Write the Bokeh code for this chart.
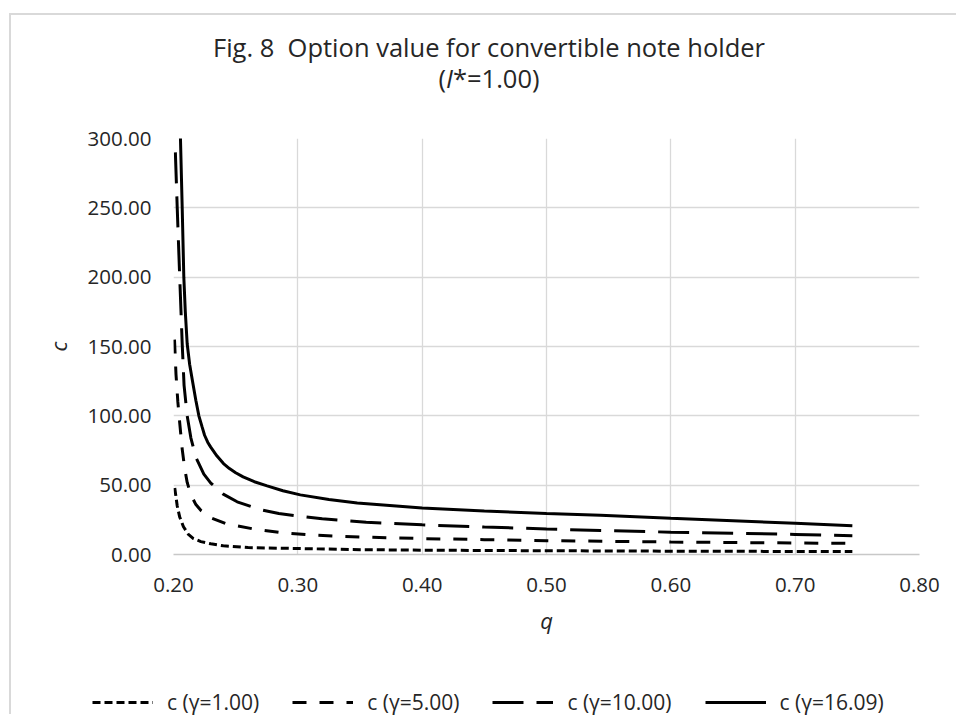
from bokeh.plotting import figure
from bokeh.layouts import column
from bokeh.models import (Range1d, FixedTicker, NumeralTickFormatter, Legend,
                          LegendItem, Div)
from bokeh.embed import file_html
from bokeh.resources import INLINE

# ---------------- data ----------------
q_g1 = [0.2010, 0.2030, 0.2050, 0.2080, 0.2120, 0.2160, 0.2220, 0.2300, 0.2400,
        0.2600, 0.3000, 0.3500, 0.4000, 0.5000, 0.6000, 0.7000, 0.7460]
c_g1 = [48.0, 35.0, 27.0, 20.0, 14.5, 11.5, 9.3, 7.7, 6.3,
        5.0, 4.3, 3.5, 3.1, 2.7, 2.4, 2.2, 2.1]

q_g5 = [0.2008, 0.2020, 0.2035, 0.2050, 0.2070, 0.2090, 0.2110, 0.2140, 0.2180,
        0.2223, 0.2300, 0.2418, 0.2633, 0.2861, 0.3083, 0.3317, 0.3536, 0.4000,
        0.4500, 0.5000, 0.5500, 0.6000, 0.6500, 0.7000, 0.7460]
c_g5 = [155, 130, 110, 95, 76, 62, 52, 43, 36,
        31.5, 26.5, 22.4, 18.6, 15.8, 14.2, 13.2, 12.5, 11.5,
        10.7, 10.0, 9.5, 9.0, 8.6, 8.3, 8.0]

q_g10 = [0.2015, 0.2030, 0.2050, 0.2070, 0.2085, 0.2110, 0.2140, 0.2180, 0.2244,
         0.2300, 0.2400, 0.2512, 0.2700, 0.2847, 0.3000, 0.3196, 0.3550, 0.4000,
         0.4500, 0.5000, 0.5434, 0.6000, 0.6500, 0.7000, 0.7460]
c_g10 = [290, 250, 200, 152, 122, 100, 84, 70, 58,
         51.5, 43.5, 38, 32.3, 29.6, 27.8, 25.7, 23.3, 21.4,
         19.8, 18.4, 17.3, 16.1, 15.3, 14.5, 13.5]

q_g16 = [0.2040, 0.2056, 0.2070, 0.2083, 0.2095, 0.2110, 0.2130, 0.2153, 0.2180,
         0.2204, 0.2230, 0.2250, 0.2275, 0.2298, 0.2350, 0.2402, 0.2450, 0.2500,
         0.2560, 0.2650, 0.2753, 0.2880, 0.3020, 0.3250, 0.3478, 0.4000, 0.4500,
         0.5000, 0.5434, 0.6000, 0.6500, 0.7000, 0.7460]
c_g16 = [340, 300, 250, 200, 175, 152, 137, 125, 111,
         100, 92, 86, 81, 77.6, 71, 65.6, 62, 59,
         56, 52.5, 49.5, 46, 43, 39.6, 37.2, 33.5, 31.3,
         29.6, 28.3, 26.2, 24.4, 22.5, 20.8]

series_labels = ["c (γ=1.00)", "c (γ=5.00)", "c (γ=10.00)", "c (γ=16.09)"]
x_ticks = [0.20, 0.30, 0.40, 0.50, 0.60, 0.70, 0.80]
y_ticks = [0, 50, 100, 150, 200, 250, 300]
title_line1 = "Fig. 8  Option value for convertible note holder"
title_line2_pre, title_line2_it, title_line2_post = "(", "I", "*=1.00)"
x_title = "q"
y_title = "c"

# ---------------- layout ----------------
FONT = "Open Sans"
TXT = "#262626"
ML, MT, FW, FH, MR, MB = 162, 23, 746, 416, 30, 125
CANVAS_W = ML + FW + MR
LEG_H = 37

title_html = (
    f'<div style="margin-left:28px;width:900px;text-align:center;'
    f"font-family:'{FONT}';font-size:25.5px;line-height:31px;color:{TXT};"
    f'padding-top:17px;white-space:pre">{title_line1}<br>'
    f'{title_line2_pre}<i>{title_line2_it}</i>{title_line2_post}</div>'
)
title_div = Div(text=title_html, width=930, height=100, margin=0)

p = figure(frame_width=FW, frame_height=FH,
           min_border_left=ML, min_border_top=MT,
           min_border_right=MR, min_border_bottom=MB,
           x_range=Range1d(0.2, 0.8), y_range=Range1d(0, 300),
           output_backend="svg", toolbar_location=None,
           background_fill_color="white", border_fill_color="white")
p.outline_line_color = None

GRID = "#d9d9d9"
p.xgrid.grid_line_color = GRID
p.ygrid.grid_line_color = GRID
p.xgrid.grid_line_width = 1.3
p.ygrid.grid_line_width = 1.3

for ax in (p.xaxis[0], p.yaxis[0]):
    ax.major_tick_line_color = None
    ax.minor_tick_line_color = None
    ax.major_tick_out = 0
    ax.major_tick_in = 0
    ax.major_label_text_font = FONT
    ax.major_label_text_font_size = "20.5px"
    ax.major_label_text_color = TXT
    ax.axis_label_text_font = FONT
    ax.axis_label_text_font_size = "22px"
    ax.axis_label_text_font_style = "italic"
    ax.axis_label_text_color = TXT
    ax.formatter = NumeralTickFormatter(format="0.00")

p.xaxis[0].ticker = FixedTicker(ticks=x_ticks)
p.yaxis[0].ticker = FixedTicker(ticks=y_ticks)
p.xaxis[0].axis_line_color = "#c8c8c8"
p.xaxis[0].axis_line_width = 1.5
p.yaxis[0].axis_line_color = None
p.xaxis[0].major_label_standoff = 23
p.yaxis[0].major_label_standoff = 22
p.xaxis[0].axis_label = x_title
p.yaxis[0].axis_label = y_title
p.xaxis[0].axis_label_standoff = 10
p.yaxis[0].axis_label_standoff = 12

# legend strip (its own canvas, so the legend is not clipped by the chart frame)
lp = figure(frame_width=CANVAS_W, frame_height=LEG_H,
            min_border_left=0, min_border_right=0, min_border_top=0, min_border_bottom=0,
            x_range=Range1d(0.2, 0.8), y_range=Range1d(0, 300),
            x_axis_location=None, y_axis_location=None,
            output_backend="svg", toolbar_location=None,
            background_fill_color="white", border_fill_color="white")
lp.outline_line_color = None
lp.xgrid.visible = False
lp.ygrid.visible = False

# series
styles = [("8 4", q_g1, c_g1), ("14 13", q_g5, c_g5),
          ("31 13", q_g10, c_g10), ("solid", q_g16, c_g16)]
items = []
for lab, (dash, qs, cs) in zip(series_labels, styles):
    p.line(qs, cs, line_color="black", line_width=3, line_dash=dash)
    r = lp.line(qs, cs, line_color="black", line_width=3, line_dash=dash, visible=False)
    items.append(LegendItem(label=lab, renderers=[r]))

legend = Legend(items=items, orientation="horizontal",
                location=(81, 0),
                glyph_width=61, glyph_height=28, label_height=28,
                label_standoff=14, spacing=33, padding=0, margin=0,
                label_text_font=FONT, label_text_font_size="21px",
                label_text_color=TXT, inactive_fill_alpha=0.0,
                border_line_color=None, background_fill_alpha=0)
lp.add_layout(legend, "center")

# chart-area frame: light grey lines on the left and top edges only
layout = column(title_div, p, lp, width=947, margin=(15, 0, 0, 11),
                styles={"box-shadow": "-2px -2px 0 0 #d9d9d9",
                        "overflow": "visible"})

open("out.html", "w").write(file_html(layout, INLINE))
